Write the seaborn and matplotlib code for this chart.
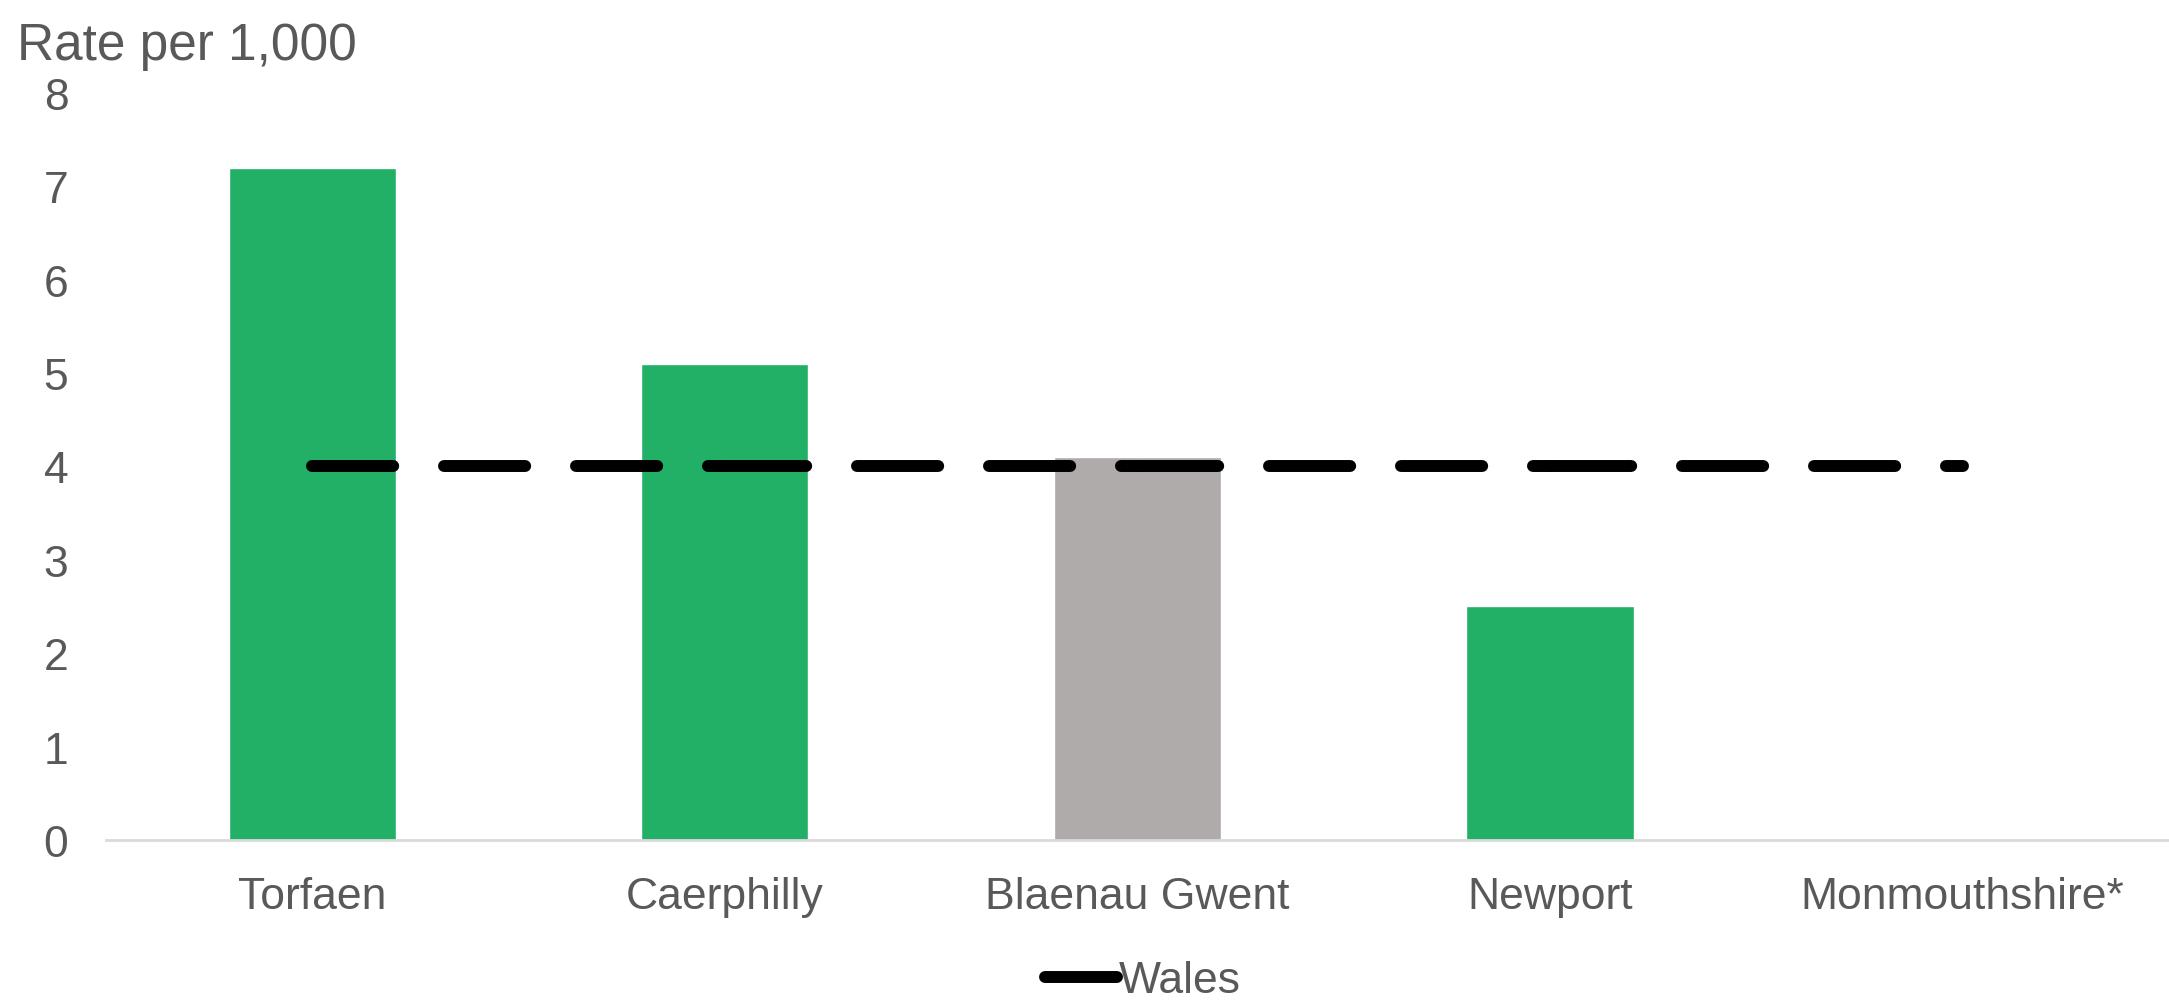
import matplotlib
matplotlib.use("Agg")
import matplotlib.pyplot as plt
import seaborn as sns
import numpy as np
import pandas as pd
from matplotlib.lines import Line2D

categories = ["Torfaen", "Caerphilly", "Blaenau Gwent", "Newport", "Monmouthshire*"]
rates = [7.2, 5.1, 4.1, 2.5, np.nan]
bar_colors = ["#22B067", "#22B067", "#AFABAA", "#22B067", "#22B067"]
wales_rate = [4.0, 4.0, 4.0, 4.0, 4.0]
y_ticks = [0, 1, 2, 3, 4, 5, 6, 7, 8]

sns.set_theme(style="white")
plt.rcParams['font.family'] = ['Liberation Sans', 'DejaVu Sans']
TEXT = "#595959"

df = pd.DataFrame({"area": categories, "rate": rates})

# Wales line as consecutive segments (the dash pattern restarts at each point)
seg_rows = []
for i in range(len(categories) - 1):
    seg_rows.append({"x": i, "y": wales_rate[i], "seg": i})
    seg_rows.append({"x": i + 1, "y": wales_rate[i + 1], "seg": i})
wales_df = pd.DataFrame(seg_rows)

fig = plt.figure(figsize=(21.69, 10.04), dpi=100)
ax = fig.add_axes([0.0488, 0.1625, 0.9512, 0.9063 - 0.1625])

sns.barplot(data=df, x="area", y="rate", hue="area", order=categories,
            hue_order=categories, palette=bar_colors, legend=False,
            width=0.405, saturation=1, ax=ax)

n_before = len(ax.lines)
sns.lineplot(data=wales_df, x="x", y="y", units="seg", estimator=None,
             ax=ax, color="black", linewidth=8.6, legend=False)
for ln in ax.lines[n_before:]:
    ln.set_dashes((6.8, 4.25))
    ln.set_dash_capstyle("round")
    ln.set_solid_capstyle("round")

ax.set_xlim(-0.5, len(categories) - 0.5)
ax.set_ylim(0, 8)
ax.set_yticks(y_ticks)
ax.set_xlabel("")
ax.set_ylabel("")
for s in ["top", "right", "left"]:
    ax.spines[s].set_visible(False)
ax.spines["bottom"].set_color("#D9D9D9")
ax.spines["bottom"].set_linewidth(2)
ax.tick_params(axis="y", length=0, pad=27, labelsize=32, labelcolor=TEXT)
ax.tick_params(axis="x", length=0, pad=26, labelsize=32, labelcolor=TEXT)

h = Line2D([0], [0], color="black", linewidth=8.6, solid_capstyle="round")
fig.legend([h], ["Wales"], loc="center", bbox_to_anchor=(0.527, 0.022),
           frameon=False, fontsize=32, labelcolor=TEXT, handlelength=1.6,
           handletextpad=0.05, borderpad=0.1)

fig.text(0.008, 0.978, "Rate per 1,000", fontsize=37, color=TEXT,
         ha="left", va="top")

fig.savefig("out.png", dpi=100)
